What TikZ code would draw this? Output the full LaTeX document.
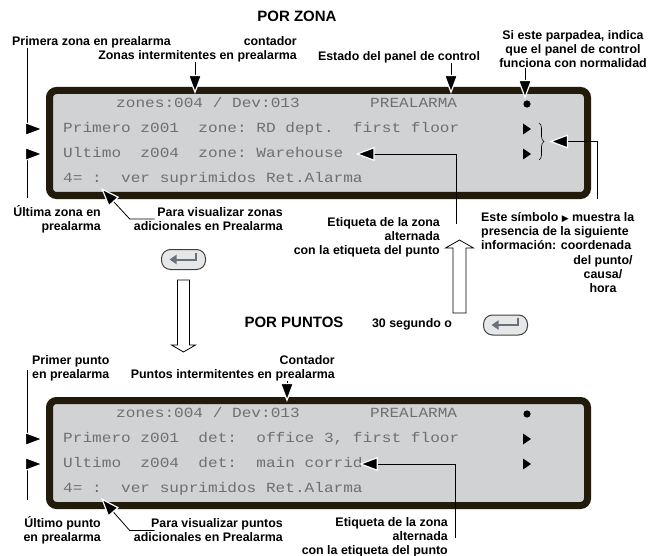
\documentclass[tikz,border=0pt]{standalone}
\usepackage{fontspec}
\setmainfont{Liberation Sans}
\newfontfamily\lcdfont[FakeStretch=1.15]{Liberation Mono}
\newfontfamily\symfont{DejaVu Sans}
\usetikzlibrary{arrows.meta,decorations.pathreplacing}
\definecolor{lcdback}{HTML}{D1D2D4}
\definecolor{lcdframe}{HTML}{221A0B}
\definecolor{lcdtext}{HTML}{6F6F6F}
\definecolor{keyback}{HTML}{E6E7E8}
\definecolor{keymark}{HTML}{68707A}
\tikzset{
    lbl/.style={font=\fontsize{12.4}{14}\selectfont\bfseries,inner sep=0pt},
    title/.style={font=\fontsize{15}{17}\selectfont\bfseries,inner sep=0pt},
    lcdbox/.style={draw=lcdframe,fill=lcdback,line width=7pt,rounded corners=7pt,
        minimum width=538pt,minimum height=105pt,inner sep=0pt},
    lcdline/.style={font=\lcdfont\fontsize{14}{16}\selectfont\frenchspacing,text=lcdtext,
        anchor=west,inner sep=0pt,text height=10pt,text depth=3pt},
    pointer/.style={line width=0.8pt,-{Triangle[length=19pt,width=14pt,color=white,fill=black,line width=1.2pt]}},
    keycap/.style={draw=black!75,fill=keyback,line width=1pt,rounded corners=9pt,
        minimum width=44pt,minimum height=20pt,inner sep=0pt},
    keymark/.style={draw=keymark,line width=2pt,-{Triangle[length=7pt,width=9pt]}},
    hollow/.style={draw=black,line width=0.8pt,fill=white},
}
\begin{document}
\begin{tikzpicture}[x=1pt,y=-1pt]
    \useasboundingbox (0,0) rectangle (666,556);
    %% Titles
    \node[title] (zonaTitle) at (297,16) {POR ZONA};
    \node[title] (puntosTitle) at (294,322) {POR PUNTOS};

    %% Display por zona
    \node[lcdbox] (lcdA) at (318.5,143) {};
    \node[lcdline] (lcdA1) at (116,104) {zones:004 / Dev:013};
    \node[lcdline] (lcdA1s) at (370,104) {PREALARMA};
    \node[lcdline] (lcdA2) at (63,129) {Primero z001~ zone: RD dept.~ first floor};
    \node[lcdline] (lcdA3) at (63,154) {Ultimo~ z004~ zone: Warehouse};
    \node[lcdline] (lcdA4) at (63,179) {4= :~ ver suprimidos Ret.Alarma};
    \fill (527,104) circle (3.6);
    \foreach \y in {129,154}
        \fill (523,{\y-5.5}) -- (531,\y) -- (523,{\y+5.5}) -- cycle;
    \draw[line width=0.6pt,decorate,decoration={brace,amplitude=5pt}] (539,123) -- (539,160);
    \coordinate (braceA) at (549,141.5);
    \coordinate (edgeA) at (44,143);

    %% Labels por zona
    \node[lbl,anchor=west] (firstZone) at (12,42) {Primera zona en prealarma};
    \node[lbl,align=right,anchor=east] (counterA) at (297,49.5) {contador\\Zonas intermitentes en prealarma};
    \node[lbl] (panelState) at (399,57) {Estado del panel de control};
    \node[lbl,align=center] (blinkNote) at (573,49.5) {Si este parpadea, indica\\que el panel de control\\funciona con normalidad};
    \node[lbl,align=right,anchor=east] (lastZone) at (101,219) {Última zona en\\prealarma};
    \node[lbl,align=right,anchor=east] (moreZones) at (283,219) {Para visualizar zonas\\adicionales en Prealarma};
    \node[lbl,align=right,anchor=east] (tagA) at (440,237.5) {Etiqueta de la zona\\alternada\\con la etiqueta del punto};
    \node[lbl,align=left,anchor=west] (symbolNote) at (481,231.5) {Este símbolo {\symfont\fontsize{9}{9}\selectfont ▶} muestra la\\presencia de la siguiente\\información: coordenada};
    \node[lbl,align=center] (symbolNoteB) at (603,274) {del punto/\\causa/\\hora};

    %% Pointers por zona
    \coordinate (cntA) at (195,94);
    \coordinate (stateA) at (451,94);
    \coordinate (blinkA) at (525,99);
    \draw[pointer] (counterA.south -| cntA) -- (cntA);
    \draw[pointer] (panelState.south -| stateA) -- (stateA);
    \draw[pointer] (blinkNote.south -| blinkA) -- (blinkA);
    \coordinate (leftTopA) at (27,48);
    \coordinate (leftBotA) at (27,198);
    \draw[pointer] (leftTopA) |- (edgeA |- lcdA2.west);
    \draw[pointer] (leftBotA) |- (edgeA |- lcdA3.west);
    \coordinate (tagLineA) at (456,224);
    \draw[pointer] (tagLineA) |- ([xshift=12pt]lcdA3.east);
    \coordinate (symLineA) at (597,199);
    \draw[pointer] (symLineA) |- (braceA);
    \coordinate (colonA) at (101,188);
    \draw[pointer] ([xshift=21pt]moreZones.west) -- ++(-25,0) -- (colonA);

    %% Keys and transitions
    \node[keycap] (keyA) at (183.5,259.5) {};
    \draw[keymark] (keyA.center) ++(12,-7) -- ++(0,7) -- ++(-26,0);
    \draw[hollow] (keyA.south) ++(-6,10) -- ++(0,65) -- ++(-6,0) -- ++(12,7)
        -- ++(12,-7) -- ++(-6,0) -- ++(0,-65) -- cycle;
    \node[keycap] (keyB) at (505.5,325) {};
    \draw[keymark] (keyB.center) ++(12,-7) -- ++(0,7) -- ++(-26,0);
    \node[lbl] (waitNote) at (412,324) {30 segundo o};
    \draw[hollow] (453,313) -- (453,248) -- (445.5,248) -- (459.5,240) -- (473.5,248)
        -- (466,248) -- (466,313) -- cycle;

    %% Labels por puntos
    \node[lbl,align=left,anchor=west] (firstPoint) at (32,368) {Primer punto\\en prealarma};
    \node[lbl,align=right,anchor=east] (counterB) at (335,368) {Contador\\Puntos intermitentes en prealarma};

    %% Display por puntos
    \node[lcdbox] (lcdB) at (318.5,453) {};
    \node[lcdline] (lcdB1) at (116,414) {zones:004 / Dev:013};
    \node[lcdline] (lcdB1s) at (370,414) {PREALARMA};
    \node[lcdline] (lcdB2) at (63,439) {Primero z001~ det:~ office 3, first floor};
    \node[lcdline] (lcdB3) at (63,464) {Ultimo~ z004~ det:~ main corrid};
    \node[lcdline] (lcdB4) at (63,489) {4= :~ ver suprimidos Ret.Alarma};
    \fill (527,414) circle (3.6);
    \foreach \y in {439,464}
        \fill (523,{\y-5.5}) -- (531,\y) -- (523,{\y+5.5}) -- cycle;
    \coordinate (edgeB) at (44,453);

    \node[lbl,align=right,anchor=east] (lastPoint) at (101,530.5) {Último punto\\en prealarma};
    \node[lbl,align=right,anchor=east] (morePoints) at (283,530.5) {Para visualizar puntos\\adicionales en Prealarma};
    \node[lbl,align=right,anchor=east] (tagB) at (448,537) {Etiqueta de la zona\\alternada\\con la etiqueta del punto};

    %% Pointers por puntos
    \coordinate (cntB) at (287,402);
    \draw[pointer] (counterB.south -| cntB) -- (cntB);
    \coordinate (leftTopB) at (27,370);
    \coordinate (leftBotB) at (27,500);
    \draw[pointer] (leftTopB) |- (edgeB |- lcdB2.west);
    \draw[pointer] (leftBotB) |- (edgeB |- lcdB3.west);
    \coordinate (tagLineB) at (455,538);
    \draw[pointer] (tagLineB) |- ([xshift=-4pt]lcdB3.east);
    \coordinate (colonB) at (101,498);
    \draw[pointer] ([xshift=21pt]morePoints.west) -- ++(-25,0) -- (colonB);
\end{tikzpicture}
\end{document}
